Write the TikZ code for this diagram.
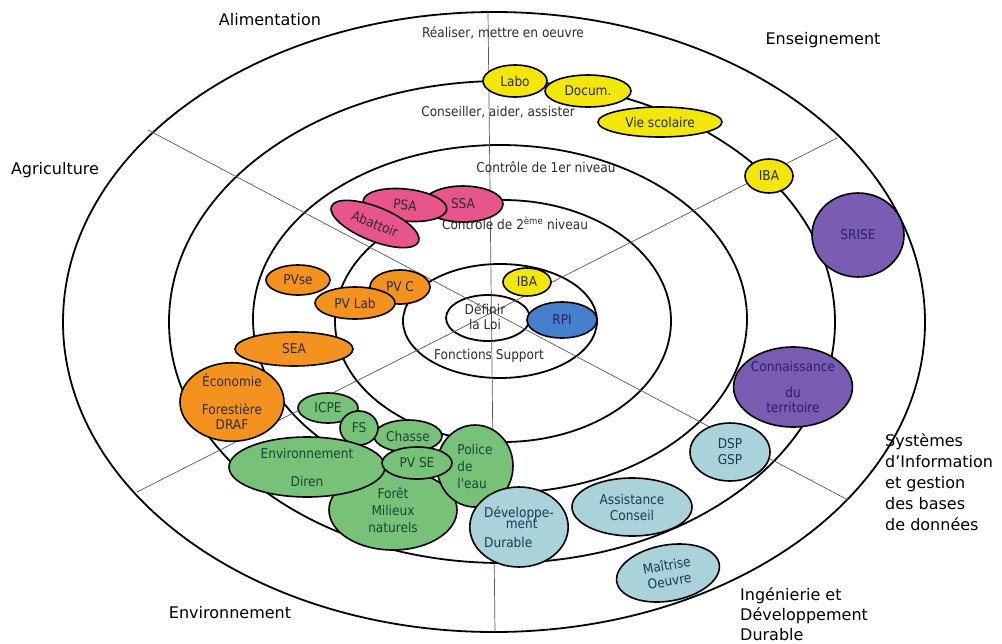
\documentclass[tikz,border=0pt]{standalone}
\usepackage{fontspec}
\setmainfont{DejaVu Sans}
\newfontfamily\condfont{DejaVu Sans Condensed}
\usetikzlibrary{shapes.geometric}

\definecolor{giallo}{RGB}{242,230,10}
\definecolor{rosa}{RGB}{232,84,140}
\definecolor{arancio}{RGB}{243,146,30}
\definecolor{blu}{RGB}{70,128,205}
\definecolor{verde}{RGB}{120,193,120}
\definecolor{azzurro}{RGB}{170,210,218}
\definecolor{viola}{RGB}{122,92,178}
\definecolor{testo}{RGB}{45,45,45}
\definecolor{testoverde}{RGB}{25,70,50}
\definecolor{testoazz}{RGB}{30,55,80}
\definecolor{testoviola}{RGB}{40,30,110}

\newcommand\piccolo{\condfont\fontsize{13.5}{16}\selectfont}
\newcommand\grande{\fontsize{16}{20}\selectfont}

\tikzset{
    anello/.style={line width=1.8pt},
    raggio/.style={black!65, line width=0.7pt},
    testa/.style={font=\grande, text=black, inner sep=0pt},
    livello/.style={font=\piccolo, text=testo, inner sep=0pt},
    blob/.style={ellipse, draw, line width=1.6pt, inner sep=0pt, font=\piccolo, align=center, text=testo},
    gia/.style={blob, fill=giallo},
    ros/.style={blob, fill=rosa},
    ara/.style={blob, fill=arancio},
    ver/.style={blob, fill=verde, text=testoverde},
    azz/.style={blob, fill=azzurro, text=testoazz},
    vio/.style={blob, fill=viola, text=testoviola}
}

\begin{document}
\begin{tikzpicture}[x=1pt, y=-1pt]
    \useasboundingbox (0,0) rectangle (1002,643);

    % Anelli
    \draw[anello] (494,322) ellipse [x radius=431pt, y radius=310pt];
    \draw[anello] (502,322) ellipse [x radius=333pt, y radius=241pt];
    \draw[anello] (500,319) ellipse [x radius=247pt, y radius=174pt];
    \draw[anello] (503,321) ellipse [x radius=168pt, y radius=121pt];
    \draw[anello] (500,321) ellipse [x radius=97pt, y radius=57pt];
    \draw[anello] (488,318) ellipse [x radius=42pt, y radius=23pt];

    % Raggi
    \coordinate (alto) at (488,12);
    \coordinate (basso) at (495,632);
    \coordinate (nordovest) at (148,130);
    \coordinate (sudest) at (848,500);
    \coordinate (sudovest) at (137,492);
    \coordinate (nordest) at (837,138);
    \draw[raggio] (alto) -- (basso);
    \draw[raggio] (nordovest) -- (sudest);
    \draw[raggio] (sudovest) -- (nordest);

    % Settori
    \node[testa] (alim) at (270,20) {Alimentation};
    \node[testa] (ens) at (823,40) {Enseignement};
    \node[testa] (agri) at (55,170) {Agriculture};
    \node[testa] (env) at (230,613) {Environnement};
    \node[testa, anchor=west, align=left, font=\fontsize{16}{21}\selectfont] (sib) at (885,482)
        {Systèmes\\d’Information\\et gestion\\des bases\\de données};
    \node[testa, anchor=west, align=left] (ing) at (740,614)
        {Ingénierie et\\Développement\\Durable};

    % Livelli
    \node[livello] (realiser) at (503,33) {Réaliser, mettre en oeuvre};
    \node[livello] (conseiller) at (498,112) {Conseiller, aider, assister};
    \node[livello] (ctrl1) at (546,167) {Contrôle de 1er niveau};
    \node[livello] (ctrl2) at (515,223) {Contrôle de 2\textsuperscript{ème} niveau};
    \node[livello, align=center, font=\condfont\fontsize{13.5}{15}\selectfont] (loi) at (485,317) {Définir\\la Loi};
    \node[livello] (support) at (489,356) {Fonctions Support};

    % Enseignement
    \node[gia, minimum width=64pt, minimum height=32pt] (labo) at (515,81) {Labo};
    \node[gia, minimum width=86pt, minimum height=32pt] (docum) at (588,91) {Docum.};
    \node[gia, minimum width=124pt, minimum height=30pt] (vie) at (660,122) {Vie scolaire};
    \node[gia, minimum width=48pt, minimum height=34pt] (iba) at (769,176) {IBA};
    \node[gia, minimum width=48pt, minimum height=28pt] (ibac) at (527,282) {IBA};
    \node[blob, fill=blu, text=testoviola, minimum width=70pt, minimum height=36pt] (rpi) at (562,320) {RPI};

    % Alimentation
    \node[ros, minimum width=80pt, minimum height=36pt] (ssa) at (463,204) {SSA};
    \node[ros, minimum width=84pt, minimum height=32pt, rotate=-6] (psa) at (405,205) {PSA};
    \node[ros, minimum width=94pt, minimum height=34pt, rotate=-22] (abattoir) at (375,224) {Abattoir};

    % Agriculture
    \node[ara, minimum width=64pt, minimum height=30pt] (pvse) at (298,280) {PVse};
    \node[ara, minimum width=60pt, minimum height=34pt] (pvc) at (400,287) {PV C};
    \node[ara, minimum width=80pt, minimum height=32pt] (pvlab) at (355,303) {PV Lab};
    \node[ara, minimum width=118pt, minimum height=34pt] (sea) at (294,349) {SEA};
    \node[ara, minimum width=104pt, minimum height=72pt, font=\condfont\fontsize{13.5}{15}\selectfont] (draf) at (232,402)
        {Économie\\[13pt]Forestière\\DRAF};

    % Environnement
    \node[ver, minimum width=128pt, minimum height=80pt, font=\condfont\fontsize{13.5}{17}\selectfont] (foret) at (393,510)
        {Forêt\\Milieux\\naturels};
    \node[ver, minimum width=76pt, minimum height=82pt, align=left, font=\condfont\fontsize{13.5}{17}\selectfont] (police) at (475,466)
        {Police\\de\\l'eau};
    \node[ver, minimum width=68pt, minimum height=32pt] (chasse) at (408,436) {Chasse};
    \node[ver, minimum width=60pt, minimum height=30pt] (icpe) at (328,408) {ICPE};
    \node[ver, minimum width=38pt, minimum height=34pt] (fs) at (359,428) {FS};
    \node[ver, minimum width=156pt, minimum height=60pt] (diren) at (307,467)
        {Environnement\\[12pt]Diren};
    \node[ver, minimum width=70pt, minimum height=32pt] (pvse2) at (417,463) {PV SE};

    % Ingenierie
    \node[azz, minimum width=94pt, minimum height=80pt, align=left] (devdur) at (519,527)
        {Développe-\\[-5pt]\hspace{1.6em}ment\\[3pt]Durable};
    \node[azz, minimum width=120pt, minimum height=58pt] (assist) at (632,507) {Assistance\\Conseil};
    \node[azz, minimum width=80pt, minimum height=58pt] (dsp) at (730,452) {DSP\\GSP};
    \node[azz, minimum width=104pt, minimum height=56pt, rotate=10] (maitrise) at (668,573) {Maîtrise\\Oeuvre};

    % Systemes d'information
    \node[vio, minimum width=92pt, minimum height=84pt] (srise) at (858,235) {SRISE};
    \node[vio, minimum width=110pt, minimum height=80pt, font=\condfont\fontsize{13.5}{15}\selectfont] (connaissance) at (793,387)
        {Connaissance\\[11pt]du\\territoire};
\end{tikzpicture}
\end{document}
